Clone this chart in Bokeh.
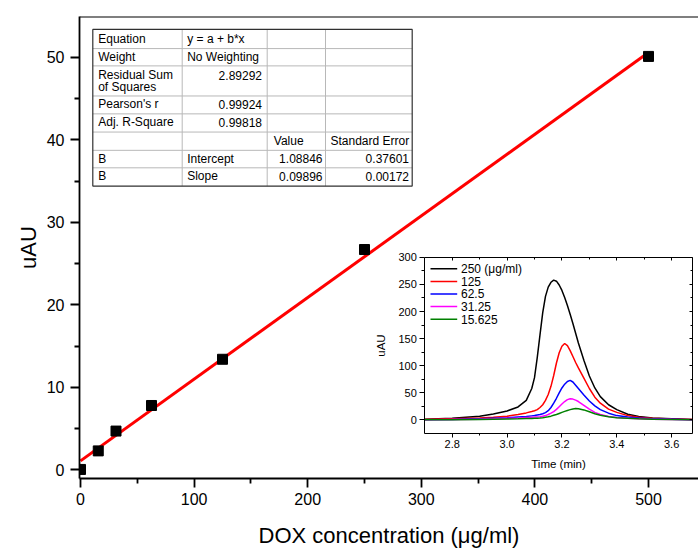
from bokeh.plotting import figure
from bokeh.models import Range1d, LinearAxis, FixedTicker, Label, NumeralTickFormatter
from bokeh.core.properties import value
from bokeh.embed import file_html
from bokeh.resources import INLINE

FONT = "Liberation Sans"

# ---------------- main calibration data ----------------
conc = [0, 15.625, 31.25, 62.5, 125, 250, 500]
uau = [0.05, 2.3, 4.7, 7.8, 13.4, 26.7, 50.1]
fit_intercept = 1.08846
fit_slope = 0.09896
fit_x = [0, 500]

x_ticks = [0, 100, 200, 300, 400, 500]
x_minor = [50, 150, 250, 350, 450]
y_ticks = [0, 10, 20, 30, 40, 50]
y_minor = [5, 15, 25, 35, 45]

# ---------------- fit table ----------------
tab_col1 = ["Equation", "Weight", "Residual Sum", "Pearson's r", "Adj. R-Square", "", "B", "B"]
tab_col1_extra = "of Squares"
tab_col2 = ["y = a + b*x", "No Weighting", "2.89292", "0.99924", "0.99818", "", "Intercept", "Slope"]
tab_col3 = ["", "", "", "", "", "Value", "1.08846", "0.09896"]
tab_col4 = ["", "", "", "", "", "Standard Error", "0.37601", "0.00172"]

# ---------------- inset chromatograms ----------------
t = [2.70, 2.80, 2.90, 2.95, 3.00, 3.04, 3.07, 3.09, 3.10, 3.11, 3.12, 3.13, 3.14, 3.15,
     3.16, 3.17, 3.18, 3.19, 3.20, 3.21, 3.22, 3.23, 3.24, 3.25, 3.26, 3.28, 3.30, 3.32,
     3.34, 3.37, 3.40, 3.44, 3.48, 3.53, 3.60, 3.675]
c250 = [1.5, 3, 7, 11, 16.5, 24, 36, 58, 78, 115, 157, 198, 228, 245,
        254, 258, 256, 249, 239, 226, 211, 195, 178, 160, 142, 110, 81, 59,
        43, 28, 19, 10.5, 6.5, 3.5, 2, 1]
c125 = [1, 2, 3.5, 5, 7, 10, 13, 15.5, 17, 19, 23, 28, 36, 47,
        62, 82, 105, 124, 136, 141, 137, 128, 117, 106, 96, 77, 58, 42,
        31, 20, 14, 8, 5, 3, 1.8, 1]
c62 = [0.5, 1, 2, 3, 4, 5.5, 6.5, 7.5, 8, 9, 10, 11.5, 13.5, 17,
       23, 31, 40, 50, 59, 66, 71, 73, 70, 64, 58, 46, 35, 26,
       19, 12.5, 8, 5.5, 3.5, 2, 1.2, 0.5]
c31 = [0.3, 0.8, 1.5, 2, 3, 3.5, 4.5, 5, 5.2, 5.5, 6, 7, 8, 10,
       12.5, 15.5, 19.5, 24.5, 29.5, 34, 37.5, 39, 38.5, 36.5, 34, 27, 20, 14,
       10, 6.5, 4.5, 3, 2, 1.3, 0.8, 0.4]
c15 = [0.2, 0.5, 1, 1.3, 1.7, 2, 2.5, 2.8, 3, 3.2, 3.6, 4.2, 5, 5.8,
       7, 8.5, 10, 12, 14, 15.8, 17.5, 19, 20.3, 21, 20.8, 18.5, 15, 11.5,
       8.5, 6, 4.2, 3, 2, 1.3, 0.8, 0.4]
series = [c250, c125, c62, c31, c15]
series_labels = ["250 (\u03bcg/ml)", "125", "62.5", "31.25", "15.625"]
series_colors = ["#000000", "#FF0000", "#0000FF", "#FF00FF", "#008000"]

ix_ticks = [2.8, 3.0, 3.2, 3.4, 3.6]
ix_minor = [2.9, 3.1, 3.3, 3.5]
iy_ticks = [0, 50, 100, 150, 200, 250, 300]
iy_minor = [25, 75, 125, 175, 225, 275]
ix_lim = (2.7, 3.675)
iy_lim = (-25, 300)

# ---------------- geometry (page pixels) ----------------
OFF = 0
W, H = 698, 550
MBL, MBT, MBB = 79, 16, 69
FL, FR, FT, FB = OFF + MBL, OFF + W, OFF + MBT, OFF + H - MBB
SX = (648 - 80) / 500.0
SY = (472.3 - 57.0) / 50.0
x_start = -(80 - FL) / SX
x_end = x_start + (FR - FL) / SX
y_start = -(FB - 472.3) / SY
y_end = y_start + (FB - FT) / SY

def px_x(px):
    return x_start + (px - FL) / SX

def px_y(py):
    return y_start + (FB - py) / SY

# inset box in page px
IL, IR, IT, IB = 424.3, 691.7, 258.4, 435.7
sxi = (IR - IL) / (ix_lim[1] - ix_lim[0])
syi = (IB - IT) / (iy_lim[1] - iy_lim[0])
ix_start = ix_lim[0] - (IL - FL) / sxi
ix_end = ix_lim[1] + (FR - IR) / sxi
iy_start = iy_lim[0] - (FB - IB) / syi
iy_end = iy_lim[1] + (IT - FT) / syi

def ipx_x(px):
    return ix_start + (px - FL) / sxi

def ipx_y(py):
    return iy_start + (FB - py) / syi

p = figure(width=W, height=H, output_backend="svg", toolbar_location=None,
           x_range=Range1d(x_start, x_end), y_range=Range1d(y_start, y_end),
           min_border_left=MBL, min_border_right=0, min_border_top=MBT, min_border_bottom=MBB,
           x_axis_label="DOX concentration (\u03bcg/ml)", y_axis_label="uAU")
p.grid.visible = False
p.outline_line_color = None
p.background_fill_color = "white"
p.border_fill_color = "white"
p.extra_x_ranges = {"ix": Range1d(ix_start, ix_end)}
p.extra_y_ranges = {"iy": Range1d(iy_start, iy_end)}

def style_axis(ax, tick_out, minor_out, lab_size, axlab_size, lab_standoff, axlab_standoff, lw):
    ax.axis_line_width = lw
    ax.major_tick_line_width = lw
    ax.minor_tick_line_width = lw
    ax.major_tick_out = tick_out
    ax.major_tick_in = 0
    ax.minor_tick_out = minor_out
    ax.minor_tick_in = 0
    ax.major_label_text_font = FONT
    ax.major_label_text_font_size = lab_size
    ax.major_label_text_color = "black"
    ax.major_label_standoff = lab_standoff
    ax.axis_label_text_font = FONT
    ax.axis_label_text_font_size = axlab_size
    ax.axis_label_text_font_style = "normal"
    ax.axis_label_text_color = "black"
    ax.axis_label_standoff = axlab_standoff

xa = p.xaxis[0]
xa.ticker = FixedTicker(ticks=x_ticks, minor_ticks=x_minor)
style_axis(xa, 9, 5, "16px", "22px", 5, 15, 1.8)
ya = p.yaxis[0]
ya.ticker = FixedTicker(ticks=y_ticks, minor_ticks=y_minor)
style_axis(ya, 9, 5, "16px", "22px", 6, 3, 1.8)

top_ax = LinearAxis(fixed_location=y_end, ticker=FixedTicker(ticks=[]), axis_line_width=1.8,
                    major_tick_line_color=None, minor_tick_line_color=None)
p.add_layout(top_ax, "above")

# fit line and points
fit_y = [fit_intercept + fit_slope * v for v in fit_x]
p.line(fit_x, fit_y, line_color="#FF0000", line_width=3)
p.scatter(conc, uau, marker="square", size=10, fill_color="black", line_color="black")

# ---------------- table ----------------
col_edges = [92.3, 181.7, 266.7, 325.0, 411.7]
row_edges = [29.0, 48.3, 65.7, 96.0, 114.0, 132.3, 150.7, 168.3, 186.7]
p.quad(left=[px_x(col_edges[0])], right=[px_x(col_edges[-1])], top=[px_y(row_edges[0])],
       bottom=[px_y(row_edges[-1])], fill_color="white", line_color=None)
hx0 = [px_x(col_edges[0])] * (len(row_edges) - 2)
hx1 = [px_x(col_edges[-1])] * (len(row_edges) - 2)
hy = [px_y(r) for r in row_edges[1:-1]]
p.segment(hx0, hy, hx1, hy, line_color="#b8b8b8", line_width=1)
vx = [px_x(c) for c in col_edges[1:-1]]
p.segment(vx, [px_y(row_edges[0])] * 3, vx, [px_y(row_edges[-1])] * 3, line_color="#b8b8b8", line_width=1)
p.quad(left=[px_x(col_edges[0])], right=[px_x(col_edges[-1])], top=[px_y(row_edges[0])],
       bottom=[px_y(row_edges[-1])], fill_color=None, line_color="#303030", line_width=1.2)

def tlabel(txt, px, py, align="left", size="12px"):
    if txt == "":
        return
    p.add_layout(Label(x=px_x(px), y=px_y(py), text=txt, text_font=FONT, text_font_size=size,
                       text_align=align, text_baseline="middle", text_color="black"))

row_text_y = []
for i in range(len(row_edges) - 1):
    if i == 2:
        row_text_y.append(75.0)
    else:
        row_text_y.append((row_edges[i] + row_edges[i + 1]) / 2.0 - 0.5)
numeric = lambda s: s[:1].isdigit()
for i in range(8):
    ty = row_text_y[i]
    tlabel(tab_col1[i], 97.7, ty)
    if numeric(tab_col2[i]):
        tlabel(tab_col2[i], 261.5, ty, "right")
    else:
        tlabel(tab_col2[i], 186.7, ty)
    if numeric(tab_col3[i]):
        tlabel(tab_col3[i], 322.0, ty, "right")
    else:
        tlabel(tab_col3[i], 273.3, ty)
    if numeric(tab_col4[i]):
        tlabel(tab_col4[i], 408.5, ty, "right")
    else:
        tlabel(tab_col4[i], 330.0, ty)
tlabel(tab_col1_extra, 97.7, 87.0)

# ---------------- inset ----------------
for ys, col in zip(series, series_colors):
    p.line(t, ys, x_range_name="ix", y_range_name="iy", line_color=col, line_width=1.5)

ibx = LinearAxis(x_range_name="ix", y_range_name="iy", fixed_location=iy_lim[0], bounds=ix_lim,
                 ticker=FixedTicker(ticks=ix_ticks, minor_ticks=ix_minor),
                 formatter=NumeralTickFormatter(format="0.0"), axis_label="Time (min)")
style_axis(ibx, 4, 2, "11px", "11.5px", 3, 6, 1)
p.add_layout(ibx, "below")
iby = LinearAxis(x_range_name="ix", y_range_name="iy", fixed_location=ix_lim[0], bounds=iy_lim,
                 ticker=FixedTicker(ticks=iy_ticks, minor_ticks=iy_minor), axis_label="uAU")
style_axis(iby, 5, 3, "11px", "11.5px", 3, 8, 1)
p.add_layout(iby, "left")
itx = LinearAxis(x_range_name="ix", y_range_name="iy", fixed_location=iy_lim[1], bounds=ix_lim,
                 ticker=FixedTicker(ticks=ix_ticks, minor_ticks=ix_minor))
style_axis(itx, 0, 0, "11px", "11px", 3, 3, 1)
itx.major_tick_in = 3
itx.minor_tick_in = 2
itx.major_label_text_alpha = 0
p.add_layout(itx, "above")
iry = LinearAxis(x_range_name="ix", y_range_name="iy", fixed_location=ix_lim[1], bounds=iy_lim,
                 ticker=FixedTicker(ticks=iy_ticks, minor_ticks=iy_minor))
style_axis(iry, 0, 0, "11px", "11px", 3, 3, 1)
iry.major_tick_in = 3
iry.minor_tick_in = 2
iry.major_label_text_alpha = 0
p.add_layout(iry, "right")

# inset legend
leg_y = [270.0, 282.7, 295.3, 308.0, 320.6]
for lab, col, ly in zip(series_labels, series_colors, leg_y):
    p.segment([ipx_x(430.0)], [ipx_y(ly)], [ipx_x(456.7)], [ipx_y(ly)],
              x_range_name="ix", y_range_name="iy", line_color=col, line_width=1.5)
    p.add_layout(Label(x=ipx_x(460.5), y=ipx_y(ly), x_range_name="ix", y_range_name="iy",
                       text=lab, text_font=FONT, text_font_size="12px",
                       text_baseline="middle", text_align="left", text_color="black"))

open("out.html", "w").write(file_html(p, INLINE))
